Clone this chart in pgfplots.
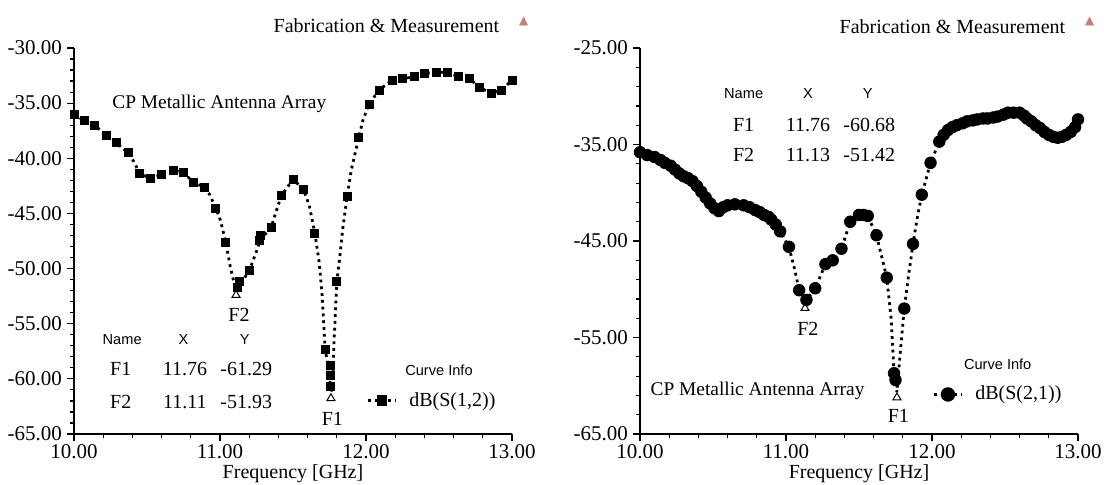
\documentclass[border=0pt]{standalone}
\usepackage{fontspec}
\setmainfont{Liberation Serif}
\setsansfont{Liberation Sans}
\newfontfamily\dejavu{DejaVu Sans}
\usepackage{pgfplots}
\pgfplotsset{compat=1.18}
\definecolor{iconc}{RGB}{196,128,118}

\pgfplotsset{
  hfss/.style={
    width=219pt, height=193pt, scale only axis,
    xmin=10, xmax=13,
    axis x line*=bottom, axis y line*=left,
    axis line style={line width=0.8pt},
    tick align=outside, major tick length=3.5pt, minor tick length=2pt,
    tick style={line width=0.6pt, black},
    xtick={10,11,12,13}, xticklabels={10.00,11.00,12.00,13.00},
    minor x tick num=4,
    ticklabel style={font=\fontsize{10.5}{12}\selectfont},
    xticklabel style={yshift=2pt},
    yticklabel style={xshift=1pt},
    xlabel={Frequency [GHz]},
    xlabel style={font=\fontsize{10}{12}\selectfont, yshift=3.5pt},
    clip=false,
    legend style={draw=none, fill=none, font=\fontsize{10}{12}\selectfont, inner sep=0pt,
       /tikz/every even column/.append style={column sep=0pt}},
    legend image code/.code={\draw[#1, mark repeat=2, mark phase=2] plot coordinates {(0pt,0pt) (7pt,0pt) (14pt,0pt)};},
  },
  sline/.style={black, line width=1.4pt, dash pattern=on 1.4pt off 2pt},
}

\begin{document}
\begin{tikzpicture}
\useasboundingbox (-37pt,-25pt) rectangle (515pt,217pt);

% ---------------- left panel ----------------
\begin{axis}[hfss, at={(0pt,0pt)},
  ymin=-65, ymax=-30, ytick={-65,-60,...,-30},
  yticklabels={-65.00,-60.00,-55.00,-50.00,-45.00,-40.00,-35.00,-30.00},
  minor y tick num=4,
  legend style={at={(0.667,0.086)}, anchor=west}]
\addlegendimage{sline, mark=square*, mark size=2pt, mark options={solid}}
\addlegendentry{\hspace{4pt}dB(S(1,2))}
\addplot[sline, forget plot] coordinates {
(10.00,-36.0) (10.07,-36.6) (10.14,-37.0) (10.22,-37.9) (10.29,-38.6) (10.37,-39.5)
(10.41,-40.3) (10.45,-41.4) (10.52,-41.8) (10.60,-41.5) (10.68,-41.1) (10.75,-41.3)
(10.82,-42.2) (10.89,-42.6) (10.93,-43.3) (10.97,-44.5) (11.00,-45.5) (11.04,-47.6)
(11.07,-49.8) (11.10,-51.5) (11.12,-51.9) (11.16,-51.0) (11.20,-50.2) (11.24,-48.8)
(11.28,-47.3) (11.35,-46.3) (11.38,-45.0) (11.42,-43.4) (11.50,-41.9) (11.57,-42.8)
(11.61,-44.2) (11.65,-46.8) (11.68,-49.5) (11.70,-52.5) (11.72,-57.3) (11.74,-58.8)
(11.75,-59.8) (11.76,-61.29) (11.77,-60.5) (11.78,-57.0) (11.80,-51.2) (11.82,-49.0)
(11.84,-46.5) (11.87,-43.5) (11.90,-41.0) (11.93,-39.3) (11.95,-38.1) (11.98,-36.5)
(12.02,-35.1) (12.09,-33.8) (12.18,-32.9) (12.25,-32.8) (12.33,-32.6) (12.40,-32.3)
(12.48,-32.2) (12.56,-32.2) (12.63,-32.6) (12.71,-32.8) (12.78,-33.6) (12.86,-34.1)
(12.93,-33.8) (13.00,-32.9)};
\addplot[only marks, mark=square*, mark size=2pt, black, forget plot] coordinates {
(10.00,-36.0) (10.07,-36.6) (10.14,-37.0) (10.22,-37.9) (10.29,-38.6) (10.37,-39.5)
(10.45,-41.4) (10.52,-41.8) (10.60,-41.5) (10.68,-41.1) (10.75,-41.3) (10.82,-42.2)
(10.89,-42.6) (10.97,-44.5) (11.04,-47.6) (11.12,-51.7) (11.13,-51.2) (11.20,-50.2)
(11.27,-47.4) (11.28,-47.0) (11.35,-46.3) (11.42,-43.4) (11.50,-41.9) (11.57,-42.8)
(11.65,-46.8) (11.72,-57.3) (11.755,-58.8) (11.755,-59.7) (11.755,-60.7) (11.80,-51.2)
(11.87,-43.5) (11.95,-38.1) (12.02,-35.1) (12.09,-33.8) (12.18,-32.9) (12.25,-32.8)
(12.33,-32.6) (12.40,-32.3) (12.48,-32.2) (12.56,-32.2) (12.63,-32.6) (12.71,-32.8)
(12.78,-33.6) (12.86,-34.1) (12.93,-33.8) (13.00,-32.9)};
\addplot[only marks, mark=triangle, mark size=2.3pt, black, line width=0.5pt, forget plot,
  every mark/.append style={yshift=-2.6pt}] coordinates {(11.11,-51.93) (11.76,-61.29)};
\node[font=\fontsize{10}{12}\selectfont] at (axis cs:11.13,-54.2) {F2};
\node[font=\fontsize{10}{12}\selectfont] at (axis cs:11.77,-63.6) {F1};
\node[font=\fontsize{10}{12}\selectfont] at (axis cs:12.14,-28.0) {Fabrication \& Measurement};
\node[font=\fontsize{6}{7}\dejavu, text=iconc] at (axis cs:13.08,-27.6) {▲};
\node[font=\fontsize{9.7}{12}\selectfont] at (axis cs:10.995,-35.1) {CP Metallic Antenna Array};
\node[font=\fontsize{7.3}{9}\sffamily] at (axis cs:10.33,-56.4) {Name};
\node[font=\fontsize{7.3}{9}\sffamily] at (axis cs:10.75,-56.4) {X};
\node[font=\fontsize{7.3}{9}\sffamily] at (axis cs:11.17,-56.4) {Y};
\node[font=\fontsize{10}{12}\selectfont] at (axis cs:10.32,-59.1) {F1};
\node[font=\fontsize{10}{12}\selectfont] at (axis cs:10.76,-59.1) {11.76};
\node[font=\fontsize{10}{12}\selectfont] at (axis cs:11.18,-59.1) {-61.29};
\node[font=\fontsize{10}{12}\selectfont] at (axis cs:10.32,-62.1) {F2};
\node[font=\fontsize{10}{12}\selectfont] at (axis cs:10.76,-62.1) {11.11};
\node[font=\fontsize{10}{12}\selectfont] at (axis cs:11.18,-62.1) {-51.93};
\node[font=\fontsize{7.3}{9}\sffamily] at (axis cs:12.50,-59.2) {Curve Info};
\end{axis}

% ---------------- right panel ----------------
\begin{axis}[hfss, at={(283pt,0pt)},
  ymin=-65, ymax=-25, ytick={-65,-55,...,-25},
  yticklabels={-65.00,-55.00,-45.00,-35.00,-25.00},
  minor y tick num=4,
  legend style={at={(0.667,0.1025)}, anchor=west}]
\addlegendimage{sline, mark=*, mark size=2.9pt, mark options={solid}}
\addlegendentry{\hspace{4pt}dB(S(2,1))}
\addplot[sline, forget plot] coordinates {
(10.00,-35.8) (10.02,-35.9) (10.10,-36.3) (10.17,-36.9) (10.24,-37.6) (10.30,-38.3)
(10.36,-38.8) (10.42,-39.9) (10.48,-41.1) (10.54,-41.9) (10.60,-41.3) (10.65,-41.2)
(10.71,-41.3) (10.79,-41.8) (10.85,-42.3) (10.90,-42.8) (10.96,-44.0) (11.02,-45.6)
(11.06,-48.0) (11.09,-50.1) (11.14,-51.1) (11.20,-49.9) (11.27,-47.4) (11.32,-47.0)
(11.38,-45.8) (11.44,-43.0) (11.50,-42.3) (11.56,-42.4) (11.62,-44.4) (11.69,-48.8)
(11.72,-53.0) (11.74,-58.7) (11.75,-59.4) (11.76,-60.68) (11.78,-57.0) (11.81,-52.0)
(11.84,-48.5) (11.87,-45.3) (11.90,-42.5) (11.93,-40.2) (11.99,-36.9) (12.05,-34.7)
(12.11,-33.5) (12.17,-33.0) (12.24,-32.6) (12.31,-32.4) (12.38,-32.3) (12.45,-32.1)
(12.52,-31.7) (12.60,-31.7) (12.65,-32.3) (12.71,-33.0) (12.77,-33.7) (12.83,-34.2)
(12.89,-34.2) (12.95,-33.7) (13.00,-32.4)};
\addplot[only marks, mark=*, mark size=2.9pt, black, forget plot] coordinates {
(10.00,-35.8) (10.05,-36.1) (10.10,-36.3) (10.14,-36.6) (10.17,-36.9) (10.21,-37.2) (10.24,-37.6) (10.27,-38.0) (10.30,-38.3)
(10.33,-38.5) (10.36,-38.8) (10.39,-39.3) (10.42,-39.9) (10.45,-40.5) (10.48,-41.1) (10.51,-41.6) (10.54,-41.9) (10.57,-41.5) (10.60,-41.3) (10.65,-41.2)
(10.71,-41.3) (10.75,-41.5) (10.79,-41.8) (10.82,-42.0) (10.85,-42.3) (10.88,-42.5) (10.90,-42.8) (10.93,-43.3) (10.96,-44.0) (11.02,-45.6)
(11.09,-50.1) (11.14,-51.1) (11.20,-49.9) (11.27,-47.4) (11.32,-47.0)
(11.38,-45.8) (11.44,-43.0) (11.50,-42.3) (11.53,-42.3) (11.56,-42.4) (11.62,-44.4) (11.69,-48.8)
(11.74,-58.7) (11.75,-59.4) (11.81,-52.0) (11.87,-45.3) (11.93,-40.2) (11.99,-36.9)
(12.05,-34.7) (12.08,-34.0) (12.11,-33.5) (12.14,-33.2) (12.17,-33.0) (12.21,-32.8) (12.24,-32.6) (12.28,-32.5) (12.31,-32.4) (12.35,-32.3) (12.38,-32.3) (12.42,-32.2)
(12.45,-32.1) (12.49,-31.9) (12.52,-31.7) (12.56,-31.7) (12.60,-31.7) (12.63,-32.0) (12.65,-32.3) (12.68,-32.6) (12.71,-33.0) (12.74,-33.3) (12.77,-33.7) (12.80,-34.0)
(12.83,-34.2) (12.86,-34.3) (12.89,-34.2) (12.92,-34.0) (12.95,-33.7) (12.98,-33.2) (13.00,-32.4)};
\addplot[only marks, mark=triangle, mark size=2.3pt, black, line width=0.5pt, forget plot,
  every mark/.append style={yshift=-2.6pt}] coordinates {(11.13,-51.42) (11.76,-60.68)};
\node[font=\fontsize{10}{12}\selectfont] at (axis cs:11.15,-54.1) {F2};
\node[font=\fontsize{10}{12}\selectfont] at (axis cs:11.77,-63.1) {F1};
\node[font=\fontsize{10}{12}\selectfont] at (axis cs:12.14,-22.75) {Fabrication \& Measurement};
\node[font=\fontsize{6}{7}\dejavu, text=iconc] at (axis cs:13.08,-22.2) {▲};
\node[font=\fontsize{9.7}{12}\selectfont] at (axis cs:10.805,-60.5) {CP Metallic Antenna Array};
\node[font=\fontsize{7.3}{9}\sffamily] at (axis cs:10.71,-29.7) {Name};
\node[font=\fontsize{7.3}{9}\sffamily] at (axis cs:11.15,-29.7) {X};
\node[font=\fontsize{7.3}{9}\sffamily] at (axis cs:11.56,-29.7) {Y};
\node[font=\fontsize{10}{12}\selectfont] at (axis cs:10.71,-33.0) {F1};
\node[font=\fontsize{10}{12}\selectfont] at (axis cs:11.15,-33.0) {11.76};
\node[font=\fontsize{10}{12}\selectfont] at (axis cs:11.57,-33.0) {-60.68};
\node[font=\fontsize{10}{12}\selectfont] at (axis cs:10.71,-36.1) {F2};
\node[font=\fontsize{10}{12}\selectfont] at (axis cs:11.15,-36.1) {11.13};
\node[font=\fontsize{10}{12}\selectfont] at (axis cs:11.57,-36.1) {-51.42};
\node[font=\fontsize{7.3}{9}\sffamily] at (axis cs:12.45,-57.8) {Curve Info};
\end{axis}
\end{tikzpicture}
\end{document}
